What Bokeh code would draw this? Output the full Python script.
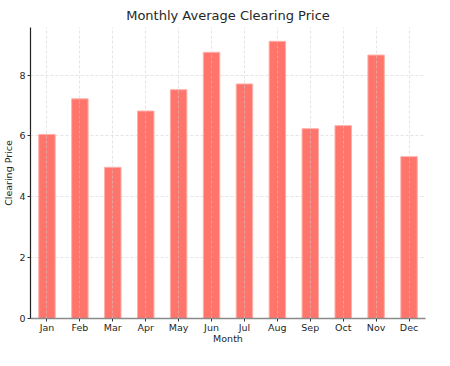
from bokeh.plotting import figure
from bokeh.models import Range1d, FixedTicker, ColumnDataSource
from bokeh.embed import file_html
from bokeh.resources import INLINE

months = ["Jan", "Feb", "Mar", "Apr", "May", "Jun", "Jul", "Aug", "Sep", "Oct", "Nov", "Dec"]
prices = [6.05, 7.22, 4.97, 6.82, 7.52, 8.75, 7.71, 9.11, 6.24, 6.34, 8.66, 5.32]
y_ticks = [0, 2, 4, 6, 8]

src = ColumnDataSource(dict(month=months, price=prices))

FONT = "DejaVu Sans"
p = figure(x_range=months, y_range=Range1d(0, max(prices) * 1.05),
           width=431, height=346, output_backend="svg", toolbar_location=None,
           title="Monthly Average Clearing Price",
           min_border_left=0, min_border_right=6, min_border_top=0, min_border_bottom=0)
p.outline_line_color = None
p.background_fill_color = "white"
p.border_fill_color = "white"

p.vbar(x="month", top="price", width=0.5, source=src,
       fill_color="#ff6e64", fill_alpha=0.95, line_color="#ffb0aa", line_width=1)

p.title.text_font = FONT
p.title.text_font_size = "13px"
p.title.text_font_style = "normal"
p.title.text_color = "#262626"
p.title.align = "center"
p.title.offset = 0

p.yaxis.ticker = FixedTicker(ticks=y_ticks)
for ax in (p.xaxis[0], p.yaxis[0]):
    ax.major_label_text_font = FONT
    ax.major_label_text_font_size = "9.5px"
    ax.major_label_text_color = "#262626"
    ax.axis_label_text_font = FONT
    ax.axis_label_text_font_size = "9.5px"
    ax.axis_label_text_font_style = "normal"
    ax.axis_label_text_color = "#262626"
    ax.major_tick_in = 0
    ax.major_tick_out = 3
    ax.minor_tick_in = 0
    ax.minor_tick_out = 0
    ax.major_label_standoff = 2
    ax.axis_label_standoff = 2
    ax.major_tick_line_color = "#333333"

p.xaxis.major_label_standoff = 0
p.xaxis.axis_label_standoff = -3

p.xaxis.axis_label = "Month"
p.yaxis.axis_label = "Clearing Price"
p.yaxis.axis_line_color = "#222222"
p.xaxis.axis_line_color = "#8a8a8a"
p.xaxis.axis_line_width = 1.5
p.yaxis.axis_line_width = 1.2

for g in (p.xgrid[0], p.ygrid[0]):
    g.grid_line_color = "#cccccc"
    g.grid_line_dash = "3 2"
    g.grid_line_alpha = 0.75
    g.grid_line_width = 0.7
p.xgrid.level = "overlay"

open("out.html", "w").write(file_html(p, INLINE))
